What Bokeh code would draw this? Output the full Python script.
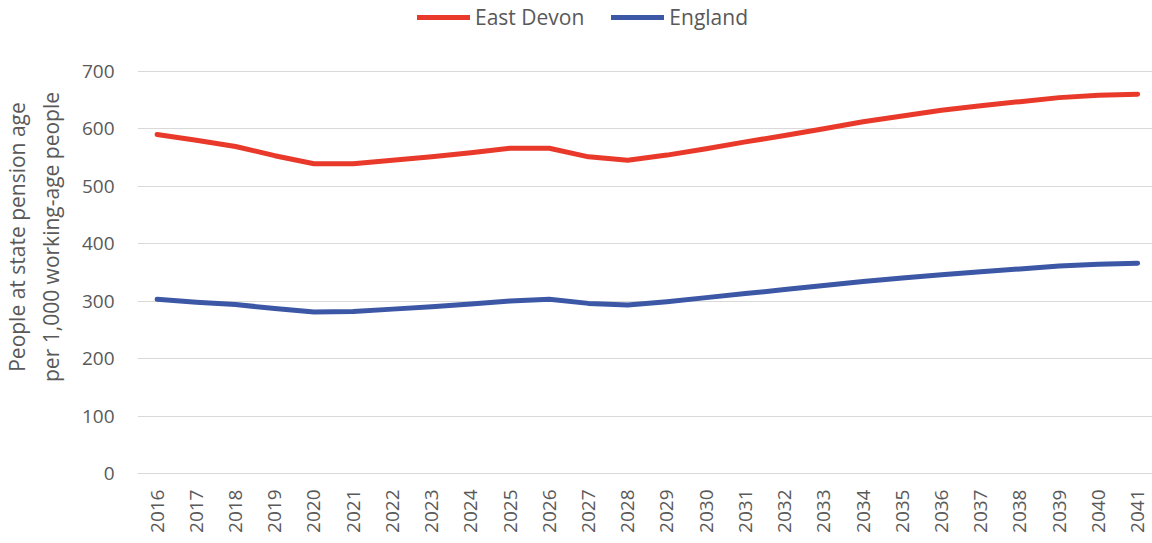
import math
from bokeh.plotting import figure
from bokeh.models import Range1d, FixedTicker, Legend, LegendItem
from bokeh.embed import file_html
from bokeh.resources import INLINE

years = list(range(2016, 2042))
east_devon = [590, 580, 569, 553, 539, 539, 545, 551, 558, 566, 566, 551, 545,
              554, 565, 577, 588, 600, 612, 622, 632, 640, 647, 654, 658, 660]
england = [303, 298, 294, 287, 281, 282, 286, 290, 295, 300, 303, 296, 293,
           299, 306, 313, 320, 327, 334, 340, 346, 351, 356, 361, 364, 366]
y_ticks = [0, 100, 200, 300, 400, 500, 600, 700]

FONT = "Open Sans"
TXT = "#595959"

p = figure(width=1152, height=535, output_backend="svg", toolbar_location=None,
           x_range=Range1d(2015.5, 2041.38), y_range=Range1d(0, 823),
           min_border_left=137, min_border_right=0, min_border_top=0, min_border_bottom=61)
p.outline_line_color = None

r1 = p.line(years, east_devon, line_color="#E8392A", line_width=5, line_cap="round", line_join="round")
r2 = p.line(years, england, line_color="#3C57A5", line_width=5, line_cap="round", line_join="round")

p.xaxis.ticker = FixedTicker(ticks=years)
p.xaxis.major_label_orientation = math.pi / 2
p.xaxis.major_label_text_font = FONT
p.xaxis.major_label_text_font_size = "19px"
p.xaxis.major_label_text_color = TXT
p.xaxis.axis_line_color = "#d9d9d9"
p.xaxis.major_tick_line_color = None
p.xaxis.minor_tick_line_color = None
p.xaxis.major_label_standoff = 10

p.yaxis.ticker = FixedTicker(ticks=y_ticks)
p.yaxis.major_label_text_font = FONT
p.yaxis.major_label_text_font_size = "19px"
p.yaxis.major_label_text_color = TXT
p.yaxis.axis_line_color = None
p.yaxis.major_tick_line_color = None
p.yaxis.minor_tick_line_color = None
p.yaxis.major_label_standoff = 17
p.yaxis.axis_label = "People at state pension age\nper 1,000 working-age people"
p.yaxis.axis_label_text_font = FONT
p.yaxis.axis_label_text_font_size = "21px"
p.yaxis.axis_label_text_font_style = "normal"
p.yaxis.axis_label_text_color = TXT
p.yaxis.axis_label_standoff = 14

p.xgrid.grid_line_color = None
p.ygrid.grid_line_color = "#d9d9d9"
p.ygrid.grid_line_width = 1

legend = Legend(items=[LegendItem(label="East Devon", renderers=[r1]),
                       LegendItem(label="England", renderers=[r2])],
                orientation="horizontal", location=(280, 442),
                label_text_font=FONT, label_text_font_size="21px", label_text_color=TXT,
                glyph_width=53, glyph_height=20, label_standoff=5, spacing=27,
                border_line_color=None, background_fill_alpha=0, padding=2, margin=0)
p.add_layout(legend)

open("out.html", "w").write(file_html(p, INLINE))
